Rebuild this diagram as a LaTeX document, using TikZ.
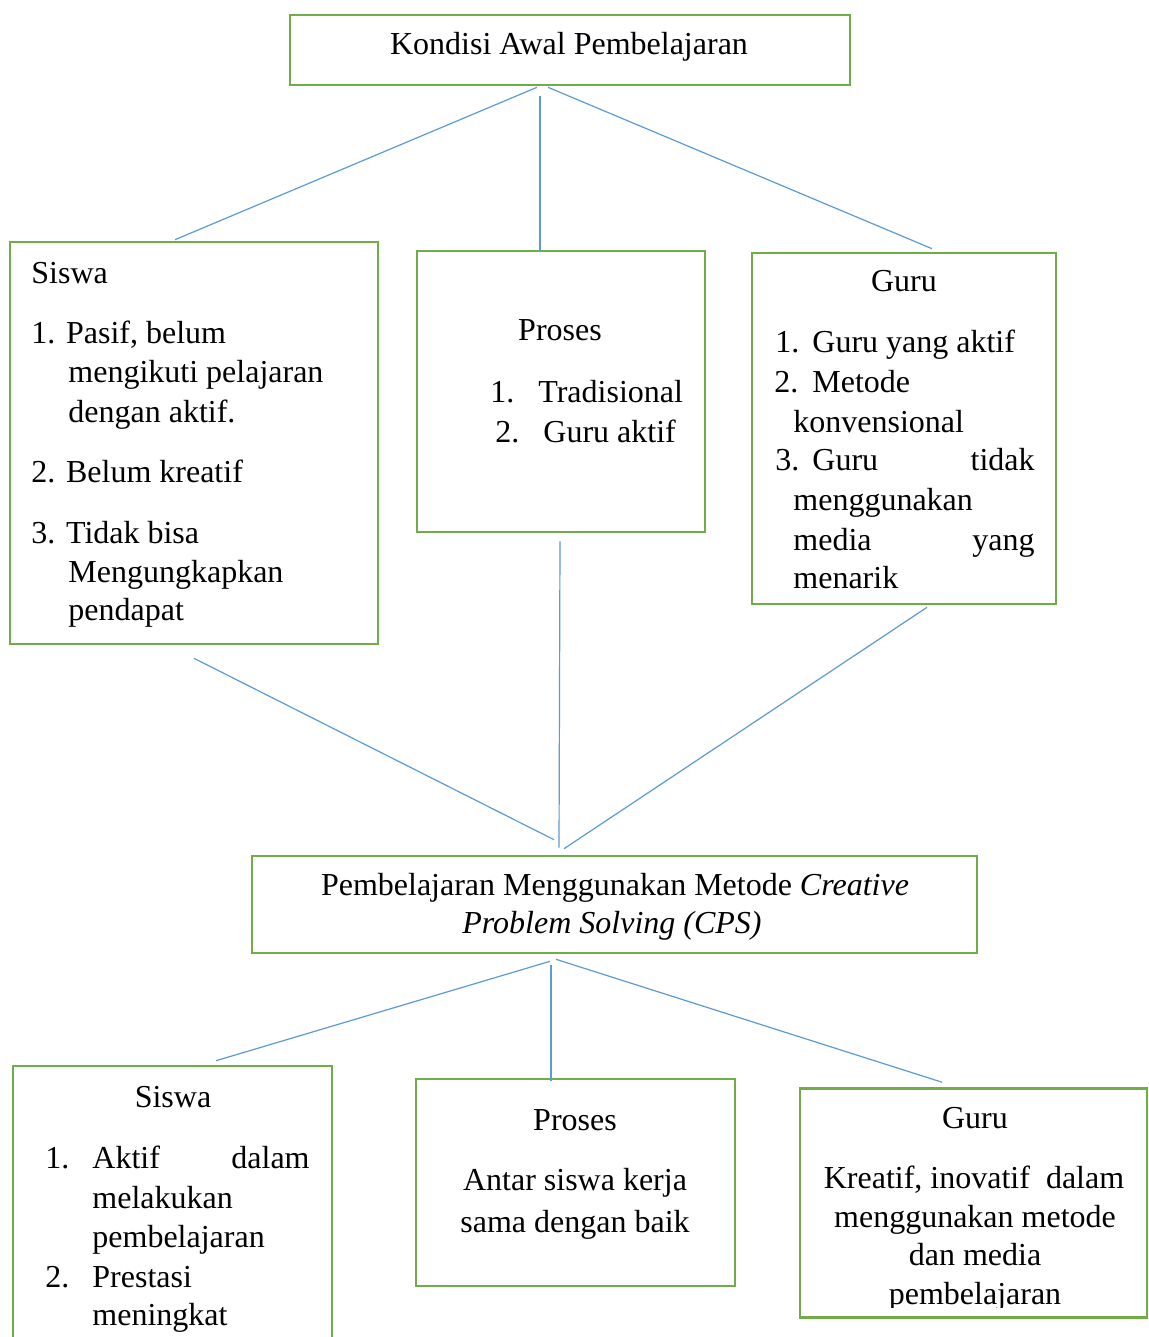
\documentclass[tikz,border=0pt]{standalone}
\usepackage{fontspec}
\setmainfont{Liberation Serif}
\definecolor{boxgreen}{RGB}{112,173,71}
\definecolor{lineblue}{RGB}{91,155,213}
\tikzstyle{box}=[rectangle,draw=boxgreen,line width=1.3pt,inner sep=0pt]
\tikzstyle{link}=[draw=lineblue,line width=0.6pt]
\tikzstyle{txt}=[inner sep=0pt,font=\fontsize{16pt}{19.75pt}\selectfont]

\begin{document}
\begin{tikzpicture}[x=0.5pt,y=-0.5pt]

  \useasboundingbox[fill=white] (0,0) rectangle (1149,1337);

  % kotak
  \node[box,minimum width=280pt,minimum height=35pt] (kondisi) at (570,50) {};
  \node[box,minimum width=184pt,minimum height=201pt] (siswa) at (194,443) {};
  \node[box,minimum width=144pt,minimum height=140.5pt] (proses) at (561,391.5) {};
  \node[box,minimum width=152pt,minimum height=175.5pt] (guru) at (904,428.5) {};
  \node[box,minimum width=362.5pt,minimum height=48.5pt] (cps) at (614.5,904.5) {};
  \node[box,minimum width=159.5pt,minimum height=142pt] (siswab) at (172.5,1208) {};
  \node[box,minimum width=159.5pt,minimum height=103.5pt] (prosesb) at (575.5,1182.5) {};
  \node[box,minimum width=173.5pt,minimum height=114.5pt] (gurub) at (973.5,1203) {};

  % garis
  \draw[link] ([shift={(-33,1)}]kondisi.south) -- ([shift={(-19,-1)}]siswa.north);
  \draw[link] ([shift={(-30,10)}]kondisi.south) -- ([shift={(-21,1)}]proses.north);
  \draw[link] ([shift={(-22,1)}]kondisi.south) -- ([shift={(28,-3)}]guru.north);
  \draw[link] ([shift={(0,13)}]siswa.south) -- ([shift={(-60.5,-15)}]cps.north);
  \draw[link] ([shift={(-1,8)}]proses.south) -- ([shift={(-55.5,-7)}]cps.north);
  \draw[link] ([shift={(23,2)}]guru.south) -- ([shift={(-50.5,-6)}]cps.north);
  \draw[link] ([shift={(-64.5,7)}]cps.south) -- ([shift={(43.5,-4)}]siswab.north);
  \draw[link] ([shift={(-63.5,11)}]cps.south) -- ([shift={(-24.5,3)}]prosesb.north);
  \draw[link] ([shift={(-58.5,5)}]cps.south) -- ([shift={(-31.5,-5)}]gurub.north);

  % teks rata kiri
  \foreach \x/\y/\t [count=\i] in {31/283/Siswa, {31/343/1. Pasif, belum}, 68/382/mengikuti pelajaran,
      68/422/dengan aktif., 31/482/2. Belum kreatif, 31/543/3. Tidak bisa, 68/582/Mengungkapkan,
      68/620/pendapat, 490/402/1., 538/402/Tradisional, 495/442/2., 543/442/Guru aktif,
      775/352/1., 812/352/Guru yang aktif, 774/392/2., 812/392/Metode, 793/432/konvensional,
      775/470/3., 812/470/Guru, 793/510/menggunakan, 793/550/media, 793/588/menarik,
      45/1168/1., 92/1168/Aktif, 92/1208/melakukan, 92/1247/pembelajaran, 45/1287/2.,
      92/1287/Prestasi, 92/1325/meningkat}
    \node[txt,anchor=base west] (kiri\i) at (\x,\y) {\t};

  % teks rata kanan
  \foreach \x/\y/\t [count=\i] in {1035/470/tidak, 1035/550/yang, 310/1168/dalam}
    \node[txt,anchor=base east] (kanan\i) at (\x,\y) {\t};

  % teks tengah
  \foreach \x/\y/\t [count=\i] in {569/55/Kondisi Awal Pembelajaran, 560/340/Proses, 904/292/Guru,
      615/895/Pembelajaran Menggunakan Metode \textit{Creative}, 612/933/\textit{Problem Solving (CPS)},
      173/1107/Siswa, 575/1130/Proses, 575/1190/Antar siswa kerja, 575/1232/sama dengan baik,
      975/1128/Guru, {974/1188/Kreatif, inovatif\ \ dalam}, 975/1227/menggunakan metode,
      975/1265/dan media}
    \node[txt,anchor=base] (tengah\i) at (\x,\y) {\t};

  \begin{scope}
    \clip (800,1088) rectangle (1147,1307);
    \node[txt,anchor=base] (potong) at (975,1304) {pembelajaran};
  \end{scope}

\end{tikzpicture}
\end{document}
